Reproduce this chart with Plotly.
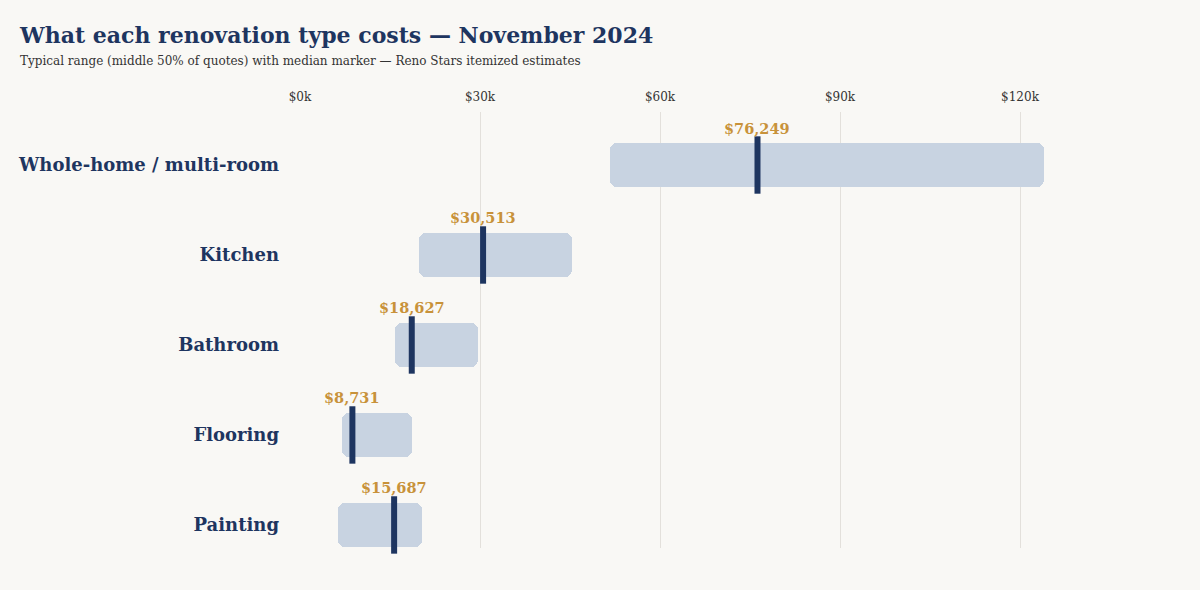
import plotly.graph_objects as go

categories = ["Whole-home / multi-room", "Kitchen", "Bathroom", "Flooring", "Painting"]
q1 = [51700, 19900, 15900, 7000, 6400]
q3 = [124000, 45400, 29600, 18600, 20400]
median = [76249, 30513, 18627, 8731, 15687]
tick_vals = [0, 30000, 60000, 90000, 120000]
tick_text = ["$0k", "$30k", "$60k", "$90k", "$120k"]

NAVY = "#1e3560"
GOLD = "#c8923a"
BAR = "#c8d3e1"
BG = "#f9f8f5"
FONT = "Georgia, 'DejaVu Serif', serif"

fig = go.Figure()
fig.add_trace(go.Bar(
    y=categories, x=[b - a for a, b in zip(q1, q3)], base=q1,
    orientation="h", width=0.49,
    marker=dict(color=BAR, cornerradius=7, line=dict(width=0)),
    hoverinfo="skip", showlegend=False,
))
fig.add_trace(go.Scatter(
    y=categories, x=median, mode="markers", cliponaxis=False,
    marker=dict(symbol="line-ns-open", size=41, color=NAVY,
                line=dict(width=6, color=NAVY)),
    hoverinfo="skip", showlegend=False,
))
for c, m in zip(categories, median):
    fig.add_annotation(x=m, y=c, text=f"<b>${m:,}</b>", showarrow=False,
                       yshift=37, yanchor="middle",
                       font=dict(family=FONT, size=14.5, color=GOLD))

fig.update_layout(
    width=1200, height=590,
    paper_bgcolor=BG, plot_bgcolor=BG,
    margin=dict(l=300, r=150, t=112, b=42, autoexpand=False),
    font=dict(family=FONT),
    title=dict(text="<b>What each renovation type costs — November 2024</b>",
               x=0.0167, xanchor="left", y=0.94, yanchor="middle",
               font=dict(family=FONT, size=22, color=NAVY)),
    bargap=0,
)
fig.add_annotation(text="Typical range (middle 50% of quotes) with median marker — Reno Stars itemized estimates",
                   xref="paper", yref="paper", x=-282/750, y=1 + 51/436, xanchor="left", yanchor="middle",
                   showarrow=False, font=dict(family=FONT, size=12, color="#333333"))
fig.update_xaxes(range=[0, 125000], side="top", tickvals=tick_vals, ticktext=tick_text,
                 showgrid=True, gridcolor="#e3e0db", gridwidth=1, zeroline=False,
                 showline=False, ticks="", ticklabelstandoff=8, automargin=False,
                 tickfont=dict(family=FONT, size=12, color="#333333"), fixedrange=True)
fig.update_yaxes(categoryorder="array", categoryarray=categories,
                 range=[4.256, -0.589], showgrid=False, zeroline=False, showline=False,
                 ticks="", ticklabelstandoff=20, automargin=False,
                 tickfont=dict(family=FONT, size=18, color=NAVY), fixedrange=True)
fig.update_yaxes(tickprefix="<b>", ticksuffix="</b>")

fig.write_html("out.html")
